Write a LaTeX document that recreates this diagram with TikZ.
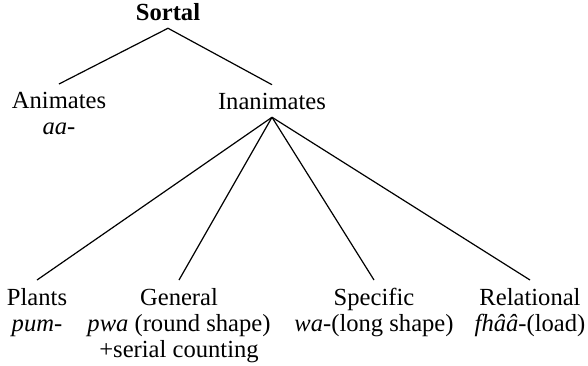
\documentclass[tikz,border=0pt]{standalone}
\usepackage{fontspec}
\setmainfont{Liberation Serif}
\usepackage{tikz}
\usetikzlibrary{positioning}
\tikzset{
  cat/.style={inner sep=0pt, outer sep=4pt, align=center,
    font=\fontsize{12.3}{13}\selectfont},
  branch/.style={line width=0.6pt}
}
\begin{document}
\begin{tikzpicture}[x=0.5pt,y=-0.5pt]
  \useasboundingbox (0,0) rectangle (588,365);
  % top level
  \node[cat, anchor=base, font=\fontsize{12.3}{13}\selectfont\bfseries] (sortal) at (168,20) {Sortal};
  \node[cat, anchor=north] (anim) at (59,84) {Animates\\\textit{aa-}};
  \node[cat, anchor=base] (inan) at (272,109) {Inanimates};
  % inanimate classes
  \node[cat, anchor=north] (plants) at (37,280) {Plants\\\textit{pum-}};
  \node[cat, anchor=north] (general) at (179,280) {General\\\textit{pwa} (round shape)\\+serial counting};
  \node[cat, anchor=north] (specific) at (374,280) {Specific\\\textit{wa}-(long shape)};
  \node[cat, anchor=north] (relational) at (530,280) {Relational\\\textit{fhââ}-(load)};
  % branches
  \draw[branch] (sortal.south) -- (anim.north);
  \draw[branch] (sortal.south) -- (inan.north);
  \foreach \n in {plants,general,specific,relational}
    \draw[branch] (inan.south) -- (\n.north);
\end{tikzpicture}
\end{document}
